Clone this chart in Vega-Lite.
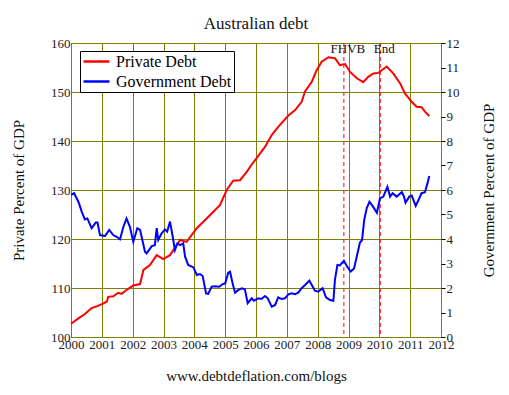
{
  "$schema": "https://vega.github.io/schema/vega-lite/v6.json",
  "width": 370,
  "height": 294,
  "autosize": {"type": "none"},
  "padding": {"left": 71, "top": 43, "right": 68, "bottom": 58},
  "background": "white",
  "title": {"text": "Australian debt", "font": "Liberation Serif", "fontSize": 17, "fontWeight": "normal", "color": "#111", "offset": 4, "anchor": "middle"},
  "config": {
    "view": {"stroke": "black", "strokeWidth": 1},
    "axis": {"labelFont": "Liberation Serif", "titleFont": "Liberation Serif", "labelFontSize": 13, "titleFontSize": 15, "titleFontWeight": "normal", "labelColor": "#222", "titleColor": "#111", "gridColor": "#808000", "gridOpacity": 1, "gridWidth": 1, "labelOverlap": false},
    "legend": {"labelFont": "Liberation Serif"}
  },
  "datasets": {
    "priv": [
      {"series": "Private Debt", "year": 2000.0, "value": 102.7},
      {"series": "Private Debt", "year": 2000.24, "value": 103.8},
      {"series": "Private Debt", "year": 2000.45, "value": 104.7},
      {"series": "Private Debt", "year": 2000.67, "value": 105.9},
      {"series": "Private Debt", "year": 2000.85, "value": 106.3},
      {"series": "Private Debt", "year": 2001.0, "value": 106.7},
      {"series": "Private Debt", "year": 2001.16, "value": 107.2},
      {"series": "Private Debt", "year": 2001.21, "value": 108.2},
      {"series": "Private Debt", "year": 2001.37, "value": 108.3},
      {"series": "Private Debt", "year": 2001.53, "value": 109.0},
      {"series": "Private Debt", "year": 2001.64, "value": 108.8},
      {"series": "Private Debt", "year": 2001.8, "value": 109.6},
      {"series": "Private Debt", "year": 2002.02, "value": 110.5},
      {"series": "Private Debt", "year": 2002.24, "value": 110.8},
      {"series": "Private Debt", "year": 2002.35, "value": 113.7},
      {"series": "Private Debt", "year": 2002.56, "value": 114.7},
      {"series": "Private Debt", "year": 2002.78, "value": 116.7},
      {"series": "Private Debt", "year": 2002.99, "value": 115.9},
      {"series": "Private Debt", "year": 2003.21, "value": 116.7},
      {"series": "Private Debt", "year": 2003.54, "value": 119.8},
      {"series": "Private Debt", "year": 2003.75, "value": 119.4},
      {"series": "Private Debt", "year": 2004.08, "value": 122.2},
      {"series": "Private Debt", "year": 2004.4, "value": 124.2},
      {"series": "Private Debt", "year": 2004.83, "value": 126.9},
      {"series": "Private Debt", "year": 2005.05, "value": 130.0},
      {"series": "Private Debt", "year": 2005.26, "value": 131.9},
      {"series": "Private Debt", "year": 2005.48, "value": 132.0},
      {"series": "Private Debt", "year": 2005.7, "value": 133.7},
      {"series": "Private Debt", "year": 2005.85, "value": 135.1},
      {"series": "Private Debt", "year": 2006.02, "value": 136.5},
      {"series": "Private Debt", "year": 2006.29, "value": 138.8},
      {"series": "Private Debt", "year": 2006.51, "value": 141.2},
      {"series": "Private Debt", "year": 2006.72, "value": 142.9},
      {"series": "Private Debt", "year": 2007.05, "value": 145.2},
      {"series": "Private Debt", "year": 2007.27, "value": 146.3},
      {"series": "Private Debt", "year": 2007.48, "value": 148.0},
      {"series": "Private Debt", "year": 2007.59, "value": 150.1},
      {"series": "Private Debt", "year": 2007.81, "value": 152.1},
      {"series": "Private Debt", "year": 2007.97, "value": 154.5},
      {"series": "Private Debt", "year": 2008.13, "value": 156.2},
      {"series": "Private Debt", "year": 2008.35, "value": 157.1},
      {"series": "Private Debt", "year": 2008.56, "value": 156.9},
      {"series": "Private Debt", "year": 2008.72, "value": 155.5},
      {"series": "Private Debt", "year": 2008.89, "value": 155.7},
      {"series": "Private Debt", "year": 2009.05, "value": 154.1},
      {"series": "Private Debt", "year": 2009.27, "value": 152.8},
      {"series": "Private Debt", "year": 2009.48, "value": 152.0},
      {"series": "Private Debt", "year": 2009.64, "value": 153.1},
      {"series": "Private Debt", "year": 2009.81, "value": 153.8},
      {"series": "Private Debt", "year": 2009.97, "value": 153.9},
      {"series": "Private Debt", "year": 2010.24, "value": 155.2},
      {"series": "Private Debt", "year": 2010.45, "value": 153.8},
      {"series": "Private Debt", "year": 2010.67, "value": 151.8},
      {"series": "Private Debt", "year": 2010.83, "value": 149.7},
      {"series": "Private Debt", "year": 2011.05, "value": 148.0},
      {"series": "Private Debt", "year": 2011.21, "value": 147.0},
      {"series": "Private Debt", "year": 2011.37, "value": 146.9},
      {"series": "Private Debt", "year": 2011.48, "value": 146.0},
      {"series": "Private Debt", "year": 2011.62, "value": 145.1}
    ],
    "gov": [
      {"series": "Government Debt", "year": 2000.0, "value": 5.8},
      {"series": "Government Debt", "year": 2000.1, "value": 5.87},
      {"series": "Government Debt", "year": 2000.24, "value": 5.52},
      {"series": "Government Debt", "year": 2000.35, "value": 5.11},
      {"series": "Government Debt", "year": 2000.45, "value": 4.8},
      {"series": "Government Debt", "year": 2000.53, "value": 4.84},
      {"series": "Government Debt", "year": 2000.67, "value": 4.44},
      {"series": "Government Debt", "year": 2000.8, "value": 4.67},
      {"series": "Government Debt", "year": 2000.86, "value": 4.67},
      {"series": "Government Debt", "year": 2000.94, "value": 4.16},
      {"series": "Government Debt", "year": 2001.1, "value": 4.12},
      {"series": "Government Debt", "year": 2001.24, "value": 4.37},
      {"series": "Government Debt", "year": 2001.37, "value": 4.16},
      {"series": "Government Debt", "year": 2001.48, "value": 4.09},
      {"series": "Government Debt", "year": 2001.59, "value": 3.99},
      {"series": "Government Debt", "year": 2001.7, "value": 4.5},
      {"series": "Government Debt", "year": 2001.8, "value": 4.84},
      {"series": "Government Debt", "year": 2001.91, "value": 4.5},
      {"series": "Government Debt", "year": 2002.02, "value": 3.89},
      {"series": "Government Debt", "year": 2002.15, "value": 4.44},
      {"series": "Government Debt", "year": 2002.24, "value": 4.37},
      {"series": "Government Debt", "year": 2002.4, "value": 3.48},
      {"series": "Government Debt", "year": 2002.45, "value": 3.41},
      {"series": "Government Debt", "year": 2002.62, "value": 3.71},
      {"series": "Government Debt", "year": 2002.72, "value": 3.75},
      {"series": "Government Debt", "year": 2002.78, "value": 4.44},
      {"series": "Government Debt", "year": 2002.83, "value": 3.96},
      {"series": "Government Debt", "year": 2002.94, "value": 4.23},
      {"series": "Government Debt", "year": 2003.05, "value": 4.39},
      {"series": "Government Debt", "year": 2003.12, "value": 4.3},
      {"series": "Government Debt", "year": 2003.21, "value": 4.71},
      {"series": "Government Debt", "year": 2003.3, "value": 4.09},
      {"series": "Government Debt", "year": 2003.37, "value": 3.55},
      {"series": "Government Debt", "year": 2003.45, "value": 3.82},
      {"series": "Government Debt", "year": 2003.54, "value": 3.75},
      {"series": "Government Debt", "year": 2003.64, "value": 3.82},
      {"series": "Government Debt", "year": 2003.7, "value": 3.28},
      {"series": "Government Debt", "year": 2003.8, "value": 2.94},
      {"series": "Government Debt", "year": 2003.97, "value": 2.84},
      {"series": "Government Debt", "year": 2004.08, "value": 2.53},
      {"series": "Government Debt", "year": 2004.18, "value": 2.57},
      {"series": "Government Debt", "year": 2004.27, "value": 2.49},
      {"series": "Government Debt", "year": 2004.38, "value": 1.78},
      {"series": "Government Debt", "year": 2004.45, "value": 1.76},
      {"series": "Government Debt", "year": 2004.56, "value": 2.05},
      {"series": "Government Debt", "year": 2004.67, "value": 2.07},
      {"series": "Government Debt", "year": 2004.81, "value": 2.05},
      {"series": "Government Debt", "year": 2004.92, "value": 2.16},
      {"series": "Government Debt", "year": 2005.0, "value": 2.19},
      {"series": "Government Debt", "year": 2005.1, "value": 2.62},
      {"series": "Government Debt", "year": 2005.16, "value": 2.66},
      {"series": "Government Debt", "year": 2005.24, "value": 2.19},
      {"series": "Government Debt", "year": 2005.32, "value": 1.81},
      {"series": "Government Debt", "year": 2005.43, "value": 1.92},
      {"series": "Government Debt", "year": 2005.54, "value": 1.99},
      {"series": "Government Debt", "year": 2005.64, "value": 1.95},
      {"series": "Government Debt", "year": 2005.73, "value": 1.38},
      {"series": "Government Debt", "year": 2005.86, "value": 1.58},
      {"series": "Government Debt", "year": 2005.93, "value": 1.48},
      {"series": "Government Debt", "year": 2006.08, "value": 1.58},
      {"series": "Government Debt", "year": 2006.18, "value": 1.55},
      {"series": "Government Debt", "year": 2006.29, "value": 1.67},
      {"series": "Government Debt", "year": 2006.38, "value": 1.58},
      {"series": "Government Debt", "year": 2006.51, "value": 1.24},
      {"series": "Government Debt", "year": 2006.62, "value": 1.31},
      {"series": "Government Debt", "year": 2006.72, "value": 1.62},
      {"series": "Government Debt", "year": 2006.83, "value": 1.55},
      {"series": "Government Debt", "year": 2006.94, "value": 1.58},
      {"series": "Government Debt", "year": 2007.05, "value": 1.74},
      {"series": "Government Debt", "year": 2007.16, "value": 1.78},
      {"series": "Government Debt", "year": 2007.27, "value": 1.75},
      {"series": "Government Debt", "year": 2007.37, "value": 1.81},
      {"series": "Government Debt", "year": 2007.48, "value": 1.99},
      {"series": "Government Debt", "year": 2007.59, "value": 2.12},
      {"series": "Government Debt", "year": 2007.73, "value": 2.3},
      {"series": "Government Debt", "year": 2007.81, "value": 2.12},
      {"series": "Government Debt", "year": 2007.91, "value": 1.89},
      {"series": "Government Debt", "year": 2008.02, "value": 1.85},
      {"series": "Government Debt", "year": 2008.16, "value": 1.99},
      {"series": "Government Debt", "year": 2008.27, "value": 1.62},
      {"series": "Government Debt", "year": 2008.4, "value": 1.51},
      {"series": "Government Debt", "year": 2008.51, "value": 1.48},
      {"series": "Government Debt", "year": 2008.56, "value": 2.33},
      {"series": "Government Debt", "year": 2008.64, "value": 2.94},
      {"series": "Government Debt", "year": 2008.72, "value": 2.92},
      {"series": "Government Debt", "year": 2008.85, "value": 3.11},
      {"series": "Government Debt", "year": 2008.96, "value": 2.87},
      {"series": "Government Debt", "year": 2009.07, "value": 2.67},
      {"series": "Government Debt", "year": 2009.18, "value": 2.8},
      {"series": "Government Debt", "year": 2009.29, "value": 3.41},
      {"series": "Government Debt", "year": 2009.37, "value": 3.85},
      {"series": "Government Debt", "year": 2009.44, "value": 3.96},
      {"series": "Government Debt", "year": 2009.51, "value": 4.78},
      {"series": "Government Debt", "year": 2009.59, "value": 5.25},
      {"series": "Government Debt", "year": 2009.68, "value": 5.52},
      {"series": "Government Debt", "year": 2009.78, "value": 5.35},
      {"series": "Government Debt", "year": 2009.92, "value": 5.07},
      {"series": "Government Debt", "year": 2010.02, "value": 5.66},
      {"series": "Government Debt", "year": 2010.13, "value": 5.73},
      {"series": "Government Debt", "year": 2010.26, "value": 6.13},
      {"series": "Government Debt", "year": 2010.35, "value": 5.73},
      {"series": "Government Debt", "year": 2010.43, "value": 5.87},
      {"series": "Government Debt", "year": 2010.56, "value": 5.73},
      {"series": "Government Debt", "year": 2010.73, "value": 5.91},
      {"series": "Government Debt", "year": 2010.8, "value": 5.73},
      {"series": "Government Debt", "year": 2010.85, "value": 5.48},
      {"series": "Government Debt", "year": 2010.97, "value": 5.73},
      {"series": "Government Debt", "year": 2011.05, "value": 5.77},
      {"series": "Government Debt", "year": 2011.18, "value": 5.35},
      {"series": "Government Debt", "year": 2011.27, "value": 5.59},
      {"series": "Government Debt", "year": 2011.37, "value": 5.87},
      {"series": "Government Debt", "year": 2011.48, "value": 5.91},
      {"series": "Government Debt", "year": 2011.56, "value": 6.27},
      {"series": "Government Debt", "year": 2011.62, "value": 6.57}
    ],
    "events": [
      {"label": "FHVB", "year": 2008.85, "pos": 158.7},
      {"label": "End", "year": 2010.03, "pos": 158.7}
    ]
  },
  "encoding": {
    "x": {"field": "year", "type": "quantitative", "scale": {"domain": [2000, 2012], "nice": false, "zero": false},
      "axis": {"values": [2000, 2001, 2002, 2003, 2004, 2005, 2006, 2007, 2008, 2009, 2010, 2011, 2012], "format": "d", "ticks": false, "domain": false, "labelPadding": 1, "labelFlush": false, "labelOverlap": false, "title": "www.debtdeflation.com/blogs", "titlePadding": 17}}
  },
  "layer": [
    {
      "layer": [
        {
          "data": {"name": "priv"},
          "mark": {"type": "line", "strokeWidth": 2},
          "encoding": {
            "y": {"field": "value", "type": "quantitative", "scale": {"domain": [100, 160], "nice": false, "zero": false},
              "axis": {"values": [100, 105, 110, 115, 120, 125, 130, 135, 140, 145, 150, 155, 160], "ticks": false, "domain": false, "labelPadding": 1, "labelFlush": false, "labelOverlap": false, "title": "Private Percent of GDP", "titlePadding": 24}},
            "color": {"field": "series", "type": "nominal",
              "scale": {"domain": ["Private Debt", "Government Debt"], "range": ["#ff0000", "#0000ff"]},
              "legend": {"title": null, "orient": "none", "legendX": 9, "legendY": 8, "fillColor": "white", "strokeColor": "black", "padding": 2, "symbolType": "M-1,0H2.714", "symbolSize": 196, "symbolStrokeWidth": 2.5, "labelFontSize": 16, "labelColor": "black", "labelOffset": 17, "rowPadding": 3}}
          }
        },
        {
          "data": {"name": "events"},
          "mark": {"type": "rule", "color": "#ff0000", "strokeWidth": 1, "strokeDash": [4, 3]},
          "encoding": {}
        },
        {
          "data": {"name": "events"},
          "mark": {"type": "text", "font": "Liberation Serif", "fontSize": 13, "color": "#111", "align": "center", "baseline": "middle", "dx": 4},
          "encoding": {
            "y": {"field": "pos", "type": "quantitative"},
            "text": {"field": "label"}
          }
        }
      ]
    },
    {
      "data": {"name": "gov"},
      "mark": {"type": "line", "strokeWidth": 2},
      "encoding": {
        "y": {"field": "value", "type": "quantitative", "scale": {"domain": [0, 12], "nice": false, "zero": false},
          "axis": {"orient": "right", "values": [0, 1, 2, 3, 4, 5, 6, 7, 8, 9, 10, 11, 12], "grid": false, "ticks": true, "tickSize": 4, "tickColor": "black", "domain": false, "labelPadding": 1, "labelFlush": false, "labelOverlap": false, "title": "Government Percent of GDP", "titleAngle": 270, "titleBaseline": "top", "titlePadding": 22}},
        "color": {"field": "series", "type": "nominal"}
      }
    }
  ],
  "resolve": {"scale": {"y": "independent"}}
}
